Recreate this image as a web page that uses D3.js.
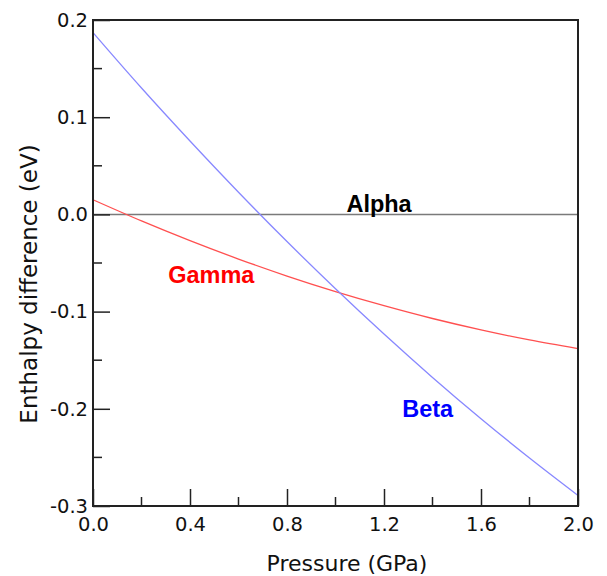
<!DOCTYPE html>
<html>
<head>
<meta charset="utf-8">
<script src="https://cdn.jsdelivr.net/npm/d3@7"></script>
<style>
  body { margin: 0; background: #fff; }
  text { font-family: "DejaVu Sans", Verdana, sans-serif; }
  .lbl { font-family: "Liberation Sans", Arial, sans-serif; font-weight: bold; font-size: 23.5px; }
</style>
</head>
<body>
<svg width="607" height="576"></svg>
<script>
// pressure (GPa) samples and enthalpy differences (eV)
var pressure = [0.0, 0.2, 0.4, 0.6, 0.8, 1.0, 1.2, 1.4, 1.6, 1.8, 2.0];
var alpha = [0, 0, 0, 0, 0, 0, 0, 0, 0, 0, 0];
var beta = [0.187, 0.130, 0.0755, 0.0228, -0.0279, -0.0765, -0.1231, -0.1677, -0.2102, -0.2506, -0.2891];
var gamma = [0.0151, -0.0067, -0.0270, -0.0459, -0.0634, -0.0794, -0.0939, -0.1071, -0.1188, -0.1292, -0.1380];

var xTicks = [0.0, 0.4, 0.8, 1.2, 1.6, 2.0];
var yTicks = [0.2, 0.1, 0.0, -0.1, -0.2, -0.3];

var m = {left: 93, top: 20, right: 29, bottom: 70};
var W = 607 - m.left - m.right, H = 576 - m.top - m.bottom;

var svg = d3.select('svg');
var g = svg.append('g').attr('transform', 'translate(' + m.left + ',' + m.top + ')');

var x = d3.scaleLinear().domain([0, 2]).range([0, W]);
var y = d3.scaleLinear().domain([-0.3, 0.2]).range([H, 0]);

var line = function(vals) {
  return d3.line()
    .x(function(d, i) { return x(pressure[i]); })
    .y(function(d) { return y(d); })
    .curve(d3.curveMonotoneX)(vals);
};

g.append('path').attr('d', line(alpha)).attr('fill', 'none')
  .attr('stroke', '#7a7a7a').attr('stroke-width', 1.5);
g.append('path').attr('d', line(gamma)).attr('fill', 'none')
  .attr('stroke', '#ff5050').attr('stroke-width', 1.3);
g.append('path').attr('d', line(beta)).attr('fill', 'none')
  .attr('stroke', '#8888ff').attr('stroke-width', 1.3);

// minor ticks
var xMinor = d3.range(0.2, 2.0, 0.4);
var yMinor = d3.range(-0.25, 0.2, 0.1);
g.selectAll('.xm').data(xMinor).enter().append('line')
  .attr('x1', x).attr('x2', x).attr('y1', H).attr('y2', H - 9)
  .attr('stroke', '#222').attr('stroke-width', 1.5);
g.selectAll('.ym').data(yMinor).enter().append('line')
  .attr('y1', y).attr('y2', y).attr('x1', 0).attr('x2', 9)
  .attr('stroke', '#222').attr('stroke-width', 1.5);

// major ticks (pointing inward)
var xAxis = d3.axisBottom(x).tickValues(xTicks).tickSize(-17).tickPadding(11)
  .tickFormat(d3.format('.1f'));
var yAxis = d3.axisLeft(y).tickValues(yTicks).tickSize(-17).tickPadding(5)
  .tickFormat(function(d) { return d3.format('.1f')(d).replace('−', '-'); });

var xa = g.append('g').attr('transform', 'translate(0,' + H + ')').call(xAxis);
var ya = g.append('g').call(yAxis);
[xa, ya].forEach(function(a) {
  a.select('.domain').remove();
  a.selectAll('line').attr('stroke', '#222').attr('stroke-width', 1.5);
  a.selectAll('text').attr('font-size', 19.5).attr('fill', '#111')
    .style('font-family', '"DejaVu Sans", Verdana, sans-serif');
});

// frame
g.append('rect').attr('x', 0).attr('y', 0).attr('width', W).attr('height', H)
  .attr('fill', 'none').attr('stroke', '#222').attr('stroke-width', 2);

// curve labels
g.append('text').attr('class', 'lbl').attr('x', x(1.045)).attr('y', y(0.0023)).text('Alpha').attr('fill', '#000');
g.append('text').attr('class', 'lbl').attr('x', x(0.31)).attr('y', y(-0.0709)).text('Gamma').attr('fill', '#ff0000');
g.append('text').attr('class', 'lbl').attr('x', x(1.275)).attr('y', y(-0.2083)).text('Beta').attr('fill', '#0000ff');

// axis titles
svg.append('text').attr('x', 347).attr('y', 571).attr('text-anchor', 'middle')
  .attr('font-size', 22).attr('fill', '#111').text('Pressure (GPa)');
svg.append('text').attr('transform', 'translate(37,284) rotate(-90)').attr('text-anchor', 'middle')
  .attr('font-size', 23).attr('fill', '#111').text('Enthalpy difference (eV)');
</script>
</body>
</html>
